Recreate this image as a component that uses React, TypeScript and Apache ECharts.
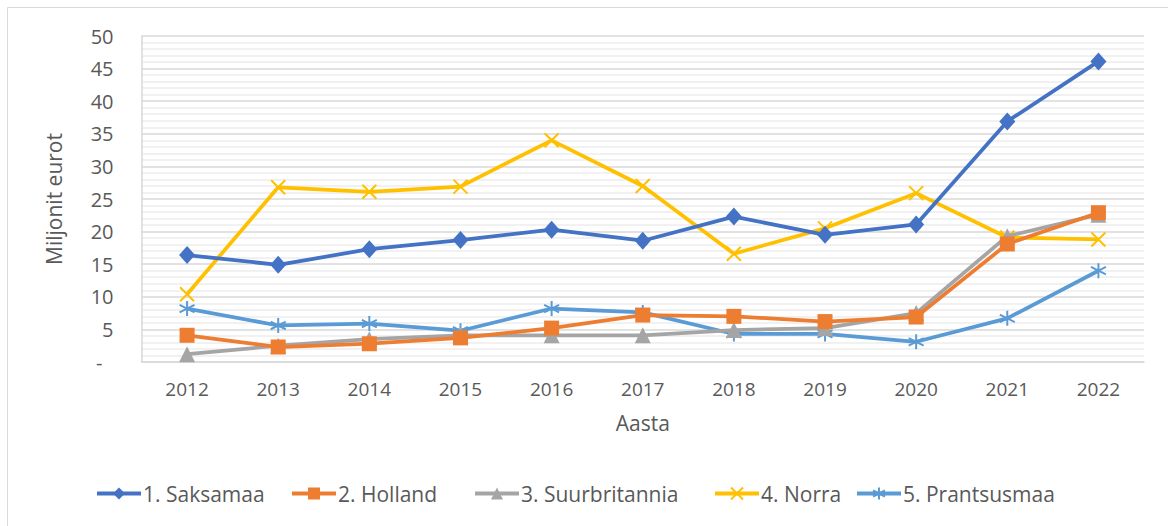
import React, { useEffect, useRef } from "react";
import * as echarts from "echarts";

const years = ["2012", "2013", "2014", "2015", "2016", "2017", "2018", "2019", "2020", "2021", "2022"];
const saksamaa = [16.4, 14.9, 17.3, 18.7, 20.3, 18.6, 22.3, 19.5, 21.1, 36.9, 46.1];
const holland = [4.1, 2.3, 2.8, 3.7, 5.2, 7.2, 7.0, 6.2, 6.9, 18.1, 22.9];
const suurbritannia = [1.2, 2.5, 3.5, 4.1, 4.1, 4.1, 4.9, 5.2, 7.5, 19.3, 22.6];
const norra = [10.4, 26.8, 26.1, 26.9, 34.0, 27.0, 16.6, 20.5, 25.9, 19.1, 18.8];
const prantsusmaa = [8.2, 5.6, 5.9, 4.8, 8.2, 7.6, 4.3, 4.3, 3.1, 6.7, 14.0];

const seriesNames = ["1. Saksamaa", "2. Holland", "3. Suurbritannia", "4. Norra", "5. Prantsusmaa"];
const colors = ["#4472C4", "#ED7D31", "#A5A5A5", "#FFC000", "#5B9BD5"];
const legendLefts = [95, 290, 473, 713, 855];

const FONT = "'Open Sans', sans-serif";
const TXT = "#595959";

const X_SYMBOL = "path://M0,0L10,10M10,0L0,10";
const STAR_SYMBOL = "path://M5,0L5,10M0.7,2.5L9.3,7.5M0.7,7.5L9.3,2.5";

export default function App() {
  const ref = useRef<HTMLDivElement>(null);
  useEffect(() => {
    document.body.style.margin = "0";
    const chart = echarts.init(ref.current!, null, { renderer: "svg" });
    const data = [saksamaa, holland, suurbritannia, norra, prantsusmaa];
    const symbols = ["diamond", "rect", "triangle", X_SYMBOL, STAR_SYMBOL];
    const sizes: any[] = [[16, 18], 15, 16, 14, 15];
    chart.setOption({
      animation: false,
      color: colors,
      textStyle: { fontFamily: FONT },
      graphic: [
        { type: "line", shape: { x1: 7.5, y1: 7.5, x2: 1168, y2: 7.5 }, style: { stroke: "#d9d9d9", lineWidth: 1 } },
        { type: "line", shape: { x1: 7.5, y1: 7.5, x2: 7.5, y2: 526 }, style: { stroke: "#d9d9d9", lineWidth: 1 } },
      ],
      grid: { left: 141.5, top: 36, right: 1169 - 1144, bottom: 526 - 362, containLabel: false },
      legend: seriesNames.map((n, i) => ({
        left: legendLefts[i],
        top: 483,
        padding: 0,
        itemWidth: 44,
        itemHeight: 15,
        itemGap: 0,
        lineStyle: { width: 4 },
        textStyle: { color: TXT, fontSize: 21, fontFamily: FONT, padding: [0, 0, 0, -3] },
        data: [n],
      })),
      xAxis: {
        type: "category",
        data: years,
        boundaryGap: true,
        name: "Aasta",
        nameLocation: "middle",
        nameGap: 50,
        nameTextStyle: { color: TXT, fontSize: 21, fontFamily: FONT },
        axisLine: { lineStyle: { color: "#d9d9d9", width: 1.5 } },
        axisTick: { show: false },
        axisLabel: { color: TXT, fontSize: 19, margin: 17, fontFamily: FONT },
      },
      yAxis: {
        type: "value",
        min: 0,
        max: 50,
        interval: 5,
        name: "Miljonit eurot",
        nameLocation: "middle",
        nameGap: 77,
        nameTextStyle: { color: TXT, fontSize: 21, fontFamily: FONT },
        axisLine: { show: true, lineStyle: { color: "#d9d9d9", width: 1.5 } },
        axisTick: { show: false },
        axisLabel: {
          color: TXT,
          fontSize: 20,
          margin: 28,
          fontFamily: FONT,
          formatter: (v: number) => (v === 0 ? "{d|-}" : String(v)),
          rich: { d: { color: TXT, fontSize: 20, fontFamily: FONT, padding: [0, 11, 0, 0] } },
        },
        splitLine: { lineStyle: { color: "#d9d9d9", width: 1.5 } },
        minorTick: { show: false, splitNumber: 5 },
        minorSplitLine: { show: true, lineStyle: { color: "#ececec", width: 1.5 } },
      },
      series: data.map((d, i) => ({
        name: seriesNames[i],
        type: "line",
        data: d,
        symbol: symbols[i],
        symbolSize: sizes[i],
        showSymbol: true,
        z: 10 - i,
        lineStyle: { color: colors[i], width: 3.75 },
        itemStyle:
          i >= 3
            ? { color: colors[i], borderColor: colors[i], borderWidth: 2 }
            : { color: colors[i], borderWidth: 0 },
      })),
    });
    return () => chart.dispose();
  }, []);
  return (
    <div
      ref={ref}
      style={{ position: "absolute", left: 0, top: 0, width: 1169, height: 526, background: "#fff" }}
    />
  );
}
